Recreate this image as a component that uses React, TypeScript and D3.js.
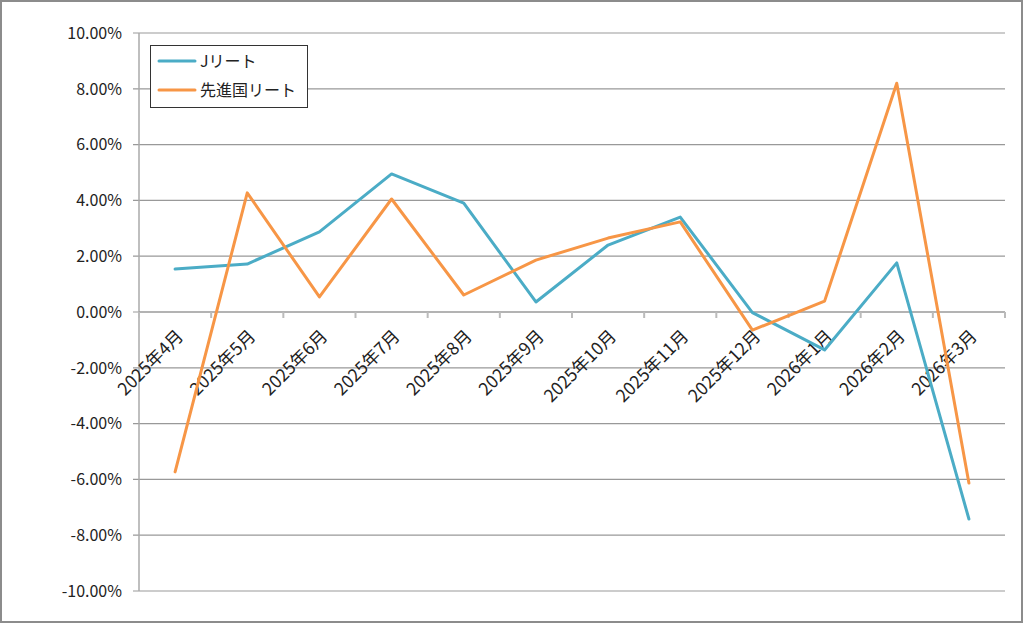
import React from "react";
import * as d3 from "d3";

const categories = [
  "2025年4月", "2025年5月", "2025年6月", "2025年7月", "2025年8月", "2025年9月",
  "2025年10月", "2025年11月", "2025年12月", "2026年1月", "2026年2月", "2026年3月",
];
const jreit = [1.54, 1.72, 2.87, 4.95, 3.9, 0.36, 2.4, 3.4, -0.02, -1.36, 1.76, -7.42];
const globalReit = [-5.73, 4.27, 0.54, 4.05, 0.61, 1.86, 2.65, 3.23, -0.65, 0.39, 8.2, -6.13];
const yTicks = [10, 8, 6, 4, 2, 0, -2, -4, -6, -8, -10];
const seriesNames = ["Jリート", "先進国リート"];
const seriesColors = ["#4BACC6", "#F79646"];

const W = 1024, H = 625;
const left = 139, right = 1005, top = 33, bottom = 591;
const FONT = "'Noto Sans CJK JP', 'Noto Sans', sans-serif";

export default function App() {
  const x = d3.scaleBand<string>().domain(categories).range([left, right]).paddingInner(0).paddingOuter(0);
  const y = d3.scaleLinear().domain([-10, 10]).range([bottom, top]);
  const line = d3
    .line<number>()
    .x((_, i) => (x(categories[i]) as number) + x.bandwidth() / 2)
    .y((d) => y(d));
  const y0 = y(0);
  const boundaries = categories.map((c) => x(c) as number).concat([right]);
  const series = [jreit, globalReit];

  return (
    <svg
      width={W}
      height={H}
      style={{ position: "absolute", left: 0, top: 0, background: "#fff" }}
      fontFamily={FONT}
    >
      <rect x={1} y={1} width={1021} height={621} fill="#fff" stroke="#8c8c8c" strokeWidth={2} />
      {yTicks.map((t) => (
        <g key={t}>
          <line x1={133} x2={right} y1={y(t)} y2={y(t)} stroke="#999" strokeWidth={1.2} />
          <text x={122} y={y(t)} dy="0.36em" textAnchor="end" fontSize={16} fill="#222">
            {t.toFixed(2) + "%"}
          </text>
        </g>
      ))}
      <line x1={left} x2={left} y1={top} y2={bottom} stroke="#aaa" strokeWidth={1.5} />
      <line x1={left} x2={right} y1={y0} y2={y0} stroke="#999" strokeWidth={1.2} />
      {boundaries.map((b, i) => (
        <line key={i} x1={b} x2={b} y1={y0} y2={y0 + 6} stroke="#bbb" strokeWidth={2} />
      ))}
      {categories.map((c) => {
        const cx = (x(c) as number) + x.bandwidth() / 2 + 5;
        const cy = y0 + 21;
        return (
          <text
            key={c}
            transform={`translate(${cx},${cy}) rotate(-45)`}
            textAnchor="end"
            dy="0.35em"
            fontSize={17.5}
            fill="#222"
          >
            {c}
          </text>
        );
      })}
      {series.map((s, i) => (
        <path
          key={i}
          d={line(s) as string}
          fill="none"
          stroke={seriesColors[i]}
          strokeWidth={3}
          strokeLinejoin="round"
          strokeLinecap="round"
        />
      ))}
      <rect x={150.5} y={45.5} width={157} height={62} fill="#fff" stroke="#333" strokeWidth={1} />
      {seriesNames.map((n, i) => (
        <g key={n}>
          <line
            x1={159}
            x2={195}
            y1={61 + i * 29}
            y2={61 + i * 29}
            stroke={seriesColors[i]}
            strokeWidth={3}
            strokeLinecap="round"
          />
          <text x={200} y={61 + i * 29} dy="0.36em" fontSize={16} fill="#222">
            {n}
          </text>
        </g>
      ))}
    </svg>
  );
}
